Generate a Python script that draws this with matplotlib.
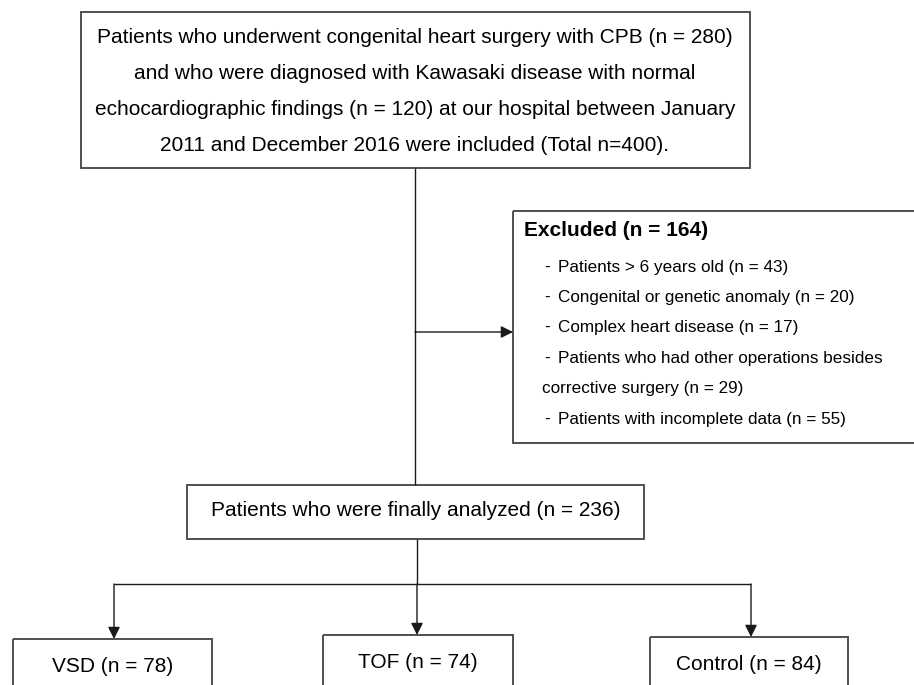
import matplotlib
matplotlib.use("Agg")
import matplotlib.pyplot as plt
from matplotlib.patches import Rectangle

plt.rcParams['font.family'] = ['Liberation Sans', 'DejaVu Sans']

# flowchart texts and counts
included_lines = [
    "Patients who underwent congenital heart surgery with CPB (n = 280)",
    "and who were diagnosed with Kawasaki disease with normal",
    "echocardiographic findings (n = 120) at our hospital between January",
    "2011 and December 2016 were included (Total n=400).",
]
excluded_title = "Excluded (n = 164)"
excluded_items = [
    "Patients > 6 years old (n = 43)",
    "Congenital or genetic anomaly (n = 20)",
    "Complex heart disease (n = 17)",
    "Patients who had other operations besides",
    "corrective surgery (n = 29)",
    "Patients with incomplete data (n = 55)",
]
excluded_dash = [True, True, True, True, False, True]
analyzed_text = "Patients who were finally analyzed (n = 236)"
groups = ["VSD", "TOF", "Control"]
group_n = [78, 74, 84]

EDGE = '#505050'
LINE = '#1a1a1a'

fig = plt.figure(figsize=(9.14, 6.85), dpi=100)
ax = fig.add_axes([0, 0, 1, 1])
ax.set_xlim(0, 914)
ax.set_ylim(685, 0)
ax.axis('off')


def box(x0, y0, x1, y1):
    ax.add_patch(Rectangle((x0, y0), x1 - x0, y1 - y0, fill=False,
                           edgecolor=EDGE, linewidth=1.4, clip_on=True))


def line(xs, ys):
    ax.plot(xs, ys, color=LINE, linewidth=1.0, solid_capstyle='butt')


def arrow(x0, y0, x1, y1):
    ax.annotate('', xy=(x1, y1), xytext=(x0, y0),
                arrowprops=dict(arrowstyle='-|>', color=LINE, lw=1.0,
                                mutation_scale=18, shrinkA=0, shrinkB=0))


# top box
box(81, 12, 750, 168)
for i, t in enumerate(included_lines):
    ax.text(415, 37 + i * 36, t, ha='center', va='center', fontsize=15)

# trunk down to analyzed box
line([415, 415], [168, 485])
arrow(415, 332, 513, 332)

# excluded box (runs off right edge)
box(513, 211, 940, 443)
ax.text(524, 230, excluded_title, ha='left', va='center',
        fontsize=15, fontweight='bold')
for i, (t, d) in enumerate(zip(excluded_items, excluded_dash)):
    y = 267 + i * 30.4
    if d:
        ax.text(544, y, '-', ha='left', va='center', fontsize=12.3)
        ax.text(558, y, t, ha='left', va='center', fontsize=12.3)
    else:
        ax.text(542, y, t, ha='left', va='center', fontsize=12.3)

# analyzed box
box(187, 485, 644, 539)
ax.text(416, 511, analyzed_text, ha='center', va='center', fontsize=15)

# branches
gx = [114, 417, 751]
gbox = [(13, 212), (323, 513), (650, 848)]
gtop = [639, 635, 637]
line([417, 417], [539, 584])
line([gx[0], gx[2]], [584, 584])
for x, (b0, b1), top, g, n in zip(gx, gbox, gtop, groups, group_n):
    arrow(x, 584, x, top)
    box(b0, top, b1, 700)
    ax.text((b0 + b1) / 2, top + 28, f"{g} (n = {n})", ha='center',
            va='center', fontsize=15)

fig.savefig('out.png', dpi=100)
